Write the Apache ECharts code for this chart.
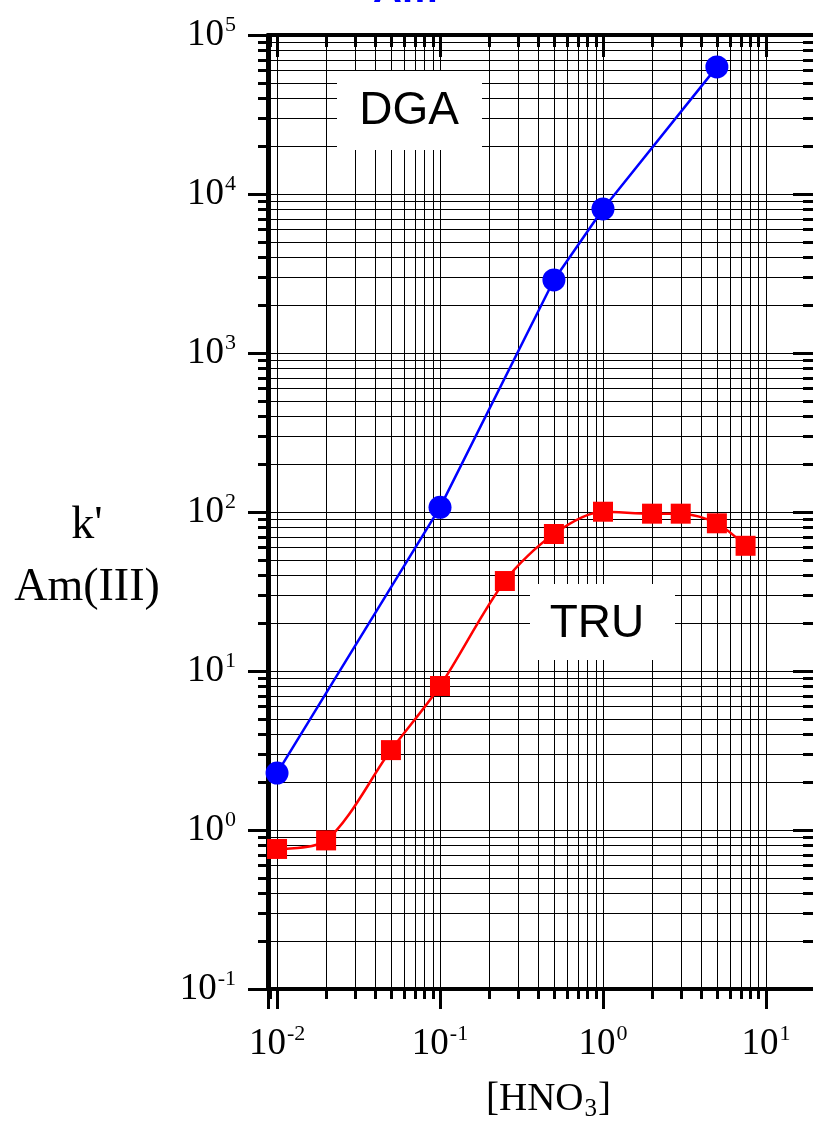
<!DOCTYPE html>
<html>
<head>
<meta charset="utf-8">
<script src="https://cdn.jsdelivr.net/npm/echarts@6/dist/echarts.min.js"></script>
<style>
  html, body { margin: 0; padding: 0; background: #fff; overflow: hidden; }
  #chart { width: 813px; height: 1126px; }
</style>
</head>
<body>
<div id="chart"></div>
<script>
// Capacity factor k' of Am(III) versus nitric acid concentration
const hno3DGA = [0.01, 0.1, 0.5, 1, 5];
const kDGA = [2.28, 107, 2880, 8050, 63000];

const hno3TRU = [0.01, 0.02, 0.05, 0.1, 0.25, 0.5, 1, 2, 3, 5, 7.5];
const kTRU = [0.76, 0.86, 3.18, 8.05, 36.8, 72.7, 100.4, 97.6, 97.6, 84.9, 61.3];

// Axis extents and the decades that carry minor (2..9) grid lines
const xRange = [0.0088, 20];
const yRange = [0.1, 100000];
const xDecades = [0.001, 0.01, 0.1, 1, 10];
const yDecades = [0.1, 1, 10, 100, 1000, 10000];
const minorSteps = [2, 3, 4, 5, 6, 7, 8, 9];

const SERIF = '"Liberation Serif", "Times New Roman", serif';
const SANS = '"Liberation Sans", Arial, sans-serif';

// minor grid positions: [x, y, kind] where kind 0 = vertical, 1 = horizontal
const minorGrid = [];
xDecades.forEach(d => minorSteps.forEach(m => {
  const v = d * m;
  if (v > xRange[0] && v < xRange[1]) minorGrid.push([v, 1, 0]);
}));
yDecades.forEach(d => minorSteps.forEach(m => {
  const v = d * m;
  if (v > yRange[0] && v < yRange[1]) minorGrid.push([1, v, 1]);
}));

function powerLabel(v) {
  const e = Math.log10(v);
  const r = Math.round(e);
  if (Math.abs(e - r) > 1e-6) return '';
  return '{b|10}{s|' + r + '}';
}

const labelRich = {
  b: { fontFamily: SERIF, fontSize: 37, lineHeight: 42, color: '#000' },
  s: { fontFamily: SERIF, fontSize: 22, lineHeight: 19, verticalAlign: 'top', color: '#000', padding: [0, 0, 0, 1] }
};

function renderMinor(params, api) {
  const cs = params.coordSys;
  const top = cs.y, bottom = cs.y + cs.height, left = cs.x, right = cs.x + cs.width;
  const gridStyle = { stroke: '#000', lineWidth: 1, fill: null };
  const tickStyle = { stroke: '#000', lineWidth: 3, fill: null };
  if (api.value(2) === 0) {
    const px = Math.round(api.coord([api.value(0), 1])[0]) + 0.5;
    return {
      type: 'group',
      children: [
        { type: 'line', shape: { x1: px, y1: top, x2: px, y2: bottom }, style: gridStyle },
        { type: 'line', shape: { x1: px, y1: bottom, x2: px, y2: bottom + 10 }, style: tickStyle },
        { type: 'line', shape: { x1: px, y1: top, x2: px, y2: top + 12 }, style: tickStyle }
      ]
    };
  }
  const py = Math.round(api.coord([1, api.value(1)])[1]) + 0.5;
  return {
    type: 'group',
    children: [
      { type: 'line', shape: { x1: left, y1: py, x2: right, y2: py }, style: gridStyle },
      { type: 'line', shape: { x1: left - 10, y1: py, x2: left, y2: py }, style: tickStyle },
      { type: 'line', shape: { x1: right - 12, y1: py, x2: right, y2: py }, style: tickStyle }
    ]
  };
}

const chart = echarts.init(document.getElementById('chart'), null, { renderer: 'canvas' });

const axisLineStyle = { color: '#000', width: 4 };

chart.setOption({
  backgroundColor: '#fff',
  animation: false,
  grid: { left: 268, top: 35, width: 547, height: 954, containLabel: false, outerBoundsMode: 'none' },
  xAxis: [
    {
      type: 'log', logBase: 10, min: xRange[0], max: xRange[1], position: 'bottom',
      axisLine: { show: true, onZero: false, lineStyle: axisLineStyle },
      axisTick: { show: true, inside: false, length: 20, lineStyle: { color: '#000', width: 3 } },
      minorTick: { show: false },
      axisLabel: { show: true, margin: 34, formatter: powerLabel, rich: labelRich, color: '#000' },
      splitLine: { show: true, lineStyle: { color: '#000', width: 1 } },
      name: '{n|[HNO}{sub|3}{n|]}',
      nameLocation: 'middle',
      nameGap: 89,
      nameTextStyle: {
        padding: [0, 0, 0, 14],
        rich: {
          n: { fontFamily: SERIF, fontSize: 39, lineHeight: 44, color: '#000' },
          sub: { fontFamily: SERIF, fontSize: 25, lineHeight: 25, verticalAlign: 'bottom', color: '#000', padding: [0, 1, 0, 1] }
        }
      }
    },
    {
      type: 'log', logBase: 10, min: xRange[0], max: xRange[1], position: 'top',
      axisLine: { show: true, onZero: false, lineStyle: axisLineStyle },
      axisTick: { show: true, inside: true, length: 22, lineStyle: { color: '#000', width: 3 } },
      axisLabel: { show: false },
      splitLine: { show: false }
    }
  ],
  yAxis: [
    {
      type: 'log', logBase: 10, min: yRange[0], max: yRange[1], position: 'left',
      axisLine: { show: true, onZero: false, lineStyle: axisLineStyle },
      axisTick: { show: true, inside: false, length: 20, lineStyle: { color: '#000', width: 3 } },
      axisLabel: { show: true, margin: 32, formatter: powerLabel, rich: labelRich, color: '#000' },
      splitLine: { show: true, lineStyle: { color: '#000', width: 1 } }
    },
    {
      type: 'log', logBase: 10, min: yRange[0], max: yRange[1], position: 'right',
      axisLine: { show: true, onZero: false, lineStyle: axisLineStyle },
      axisTick: { show: true, inside: true, length: 22, lineStyle: { color: '#000', width: 3 } },
      axisLabel: { show: false },
      splitLine: { show: false }
    }
  ],
  series: [
    {
      name: 'grid',
      type: 'custom',
      xAxisIndex: 0, yAxisIndex: 0,
      dimensions: ['x', 'y', 'kind'],
      encode: { x: 0, y: 1 },
      clip: false,
      silent: true,
      z: 1,
      renderItem: renderMinor,
      data: minorGrid
    },
    {
      name: 'DGA',
      type: 'line',
      xAxisIndex: 0, yAxisIndex: 0,
      z: 5,
      data: hno3DGA.map((x, i) => [x, kDGA[i]]),
      symbol: 'circle',
      symbolSize: 23,
      itemStyle: { color: '#0000ff' },
      lineStyle: { color: '#0000ff', width: 2.5 }
    },
    {
      name: 'TRU',
      type: 'line',
      xAxisIndex: 0, yAxisIndex: 0,
      z: 5,
      smooth: 0.3,
      data: hno3TRU.map((x, i) => [x, kTRU[i]]),
      symbol: 'rect',
      symbolSize: 20,
      itemStyle: { color: '#ff0000' },
      lineStyle: { color: '#ff0000', width: 2.5 }
    }
  ],
  graphic: [
    {
      type: 'text', x: 373, y: -29, z: 10,
      style: { text: 'Am', fill: '#0000ff', font: 'bold 40px ' + SANS, textVerticalAlign: 'top' }
    },
    {
      type: 'rect', shape: { x: 337, y: 71, width: 145, height: 79 }, z: 10,
      style: { fill: '#fff', stroke: null }
    },
    {
      type: 'text', x: 409, y: 111, z: 11,
      style: { text: 'DGA', fill: '#000', font: '46px ' + SANS, textAlign: 'center', textVerticalAlign: 'middle' }
    },
    {
      type: 'rect', shape: { x: 530, y: 584, width: 145, height: 76 }, z: 10,
      style: { fill: '#fff', stroke: null }
    },
    {
      type: 'text', x: 597, y: 624, z: 11,
      style: { text: 'TRU', fill: '#000', font: '46px ' + SANS, textAlign: 'center', textVerticalAlign: 'middle' }
    },
    {
      type: 'text', x: 87, y: 495, z: 11,
      style: { text: "k'\nAm(III)", fill: '#000', font: '46px ' + SERIF, lineHeight: 62, textAlign: 'center', textVerticalAlign: 'top' }
    }
  ]
});
</script>
</body>
</html>
